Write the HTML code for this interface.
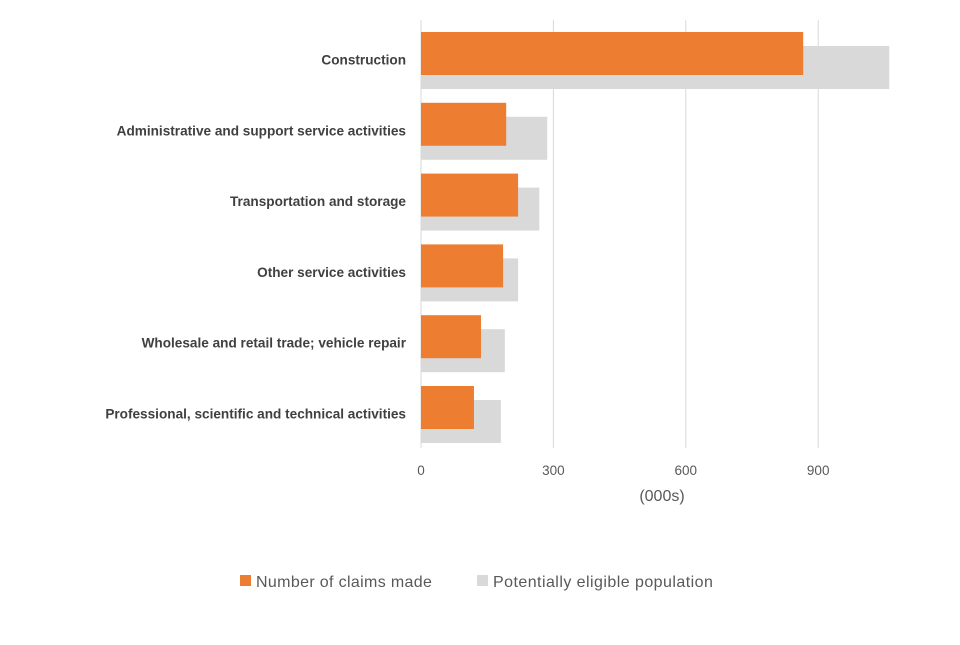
<!DOCTYPE html>
<html><head><meta charset="utf-8"><style>
body{margin:0;background:#fff;font-family:"Liberation Sans",sans-serif;}
</style></head><body>
<svg id="chart" width="960" height="640" xmlns="http://www.w3.org/2000/svg"></svg>
<script>
const categories=["Construction","Administrative and support service activities","Transportation and storage","Other service activities","Wholesale and retail trade; vehicle repair","Professional, scientific and technical activities"];
const claims=[866,193,220,186,136,120];
const eligible=[1061,286,268,220,190,181];
const ticks=[0,300,600,900];
const ticksLabels=["0","300","600","900"];
const NS="http://www.w3.org/2000/svg";
const svg=document.getElementById('chart');
function x(v){return 421+v*(132.4/300);}
function yc(i){return 60+i*70.8;}
function el(t,a,txt){const e=document.createElementNS(NS,t);for(const k in a)e.setAttribute(k,a[k]);if(txt!=null)e.textContent=txt;svg.appendChild(e);return e;}
ticks.forEach((t,i)=>{
 const g=el('line',{x1:x(t),x2:x(t),y1:20,y2:448,stroke:'#d9d9d9','stroke-width':1});
 
 
 const l=el('text',{x:x(t),y:475,'text-anchor':'middle','font-size':13.5,fill:'#595959'},ticksLabels[i]);
 
 
});
categories.forEach((c,i)=>{
 const g=el('rect',{x:x(0),y:yc(i)-14,width:x(eligible[i])-x(0),height:43,fill:'#d9d9d9'});
 
 
 const o=el('rect',{x:x(0),y:yc(i)-28,width:x(claims[i])-x(0),height:43,fill:'#ed7d31'});
 
 
 const t=el('text',{x:406,y:yc(i)+4.5,'text-anchor':'end','font-size':13.6,'font-weight':'bold',fill:'#404040'},c);
 
 
});
const at=el('text',{x:662,y:501,'text-anchor':'middle','font-size':16,fill:'#595959'},'(000s)');


const l1=el('rect',{x:240,y:575,width:11,height:11,fill:'#ed7d31'});


const t1=el('text',{x:256,y:587,'font-size':16,'letter-spacing':0.35,fill:'#595959'},'Number of claims made');


const l2=el('rect',{x:477,y:575,width:11,height:11,fill:'#d9d9d9'});


const t2=el('text',{x:493,y:587,'font-size':16,'letter-spacing':0.45,fill:'#595959'},'Potentially eligible population');


</script>
</body></html>
